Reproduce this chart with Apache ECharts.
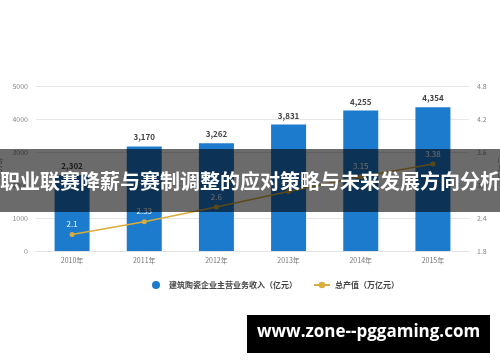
<!DOCTYPE html>
<html>
<head>
<meta charset="utf-8">
<script src="https://cdn.jsdelivr.net/npm/echarts@6/dist/echarts.min.js"></script>
<style>
html,body{margin:0;padding:0;background:#fff;}
#c{width:500px;height:362px;}
</style>
</head>
<body>
<div id="c"></div>
<script>
var categories = ['2010年','2011年','2012年','2013年','2014年','2015年'];
var revenue = [2302, 3170, 3262, 3831, 4255, 4354];
var output = [2.1, 2.33, 2.6, 2.88, 3.15, 3.38];
var leftTicks = {min: 0, max: 5000, interval: 1000};
var rightTicks = {min: 1.8, max: 4.8, interval: 0.6};
var seriesNames = ['建筑陶瓷企业主营业务收入（亿元）', '总产值（万亿元）'];
var bannerTitle = '职业联赛降薪与赛制调整的应对策略与未来发展方向分析';
var footerText = 'www.zone--pggaming.com';

function thousands(v){ return String(v).replace(/\B(?=(\d{3})+(?!\d))/g, ','); }

var chart = echarts.init(document.getElementById('c'));
chart.setOption({
  animation: false,
  textStyle: {fontFamily: '"Noto Sans CJK SC", "Noto Sans", sans-serif'},
  grid: {left: 36, right: 31, top: 86, bottom: 111, containLabel: false, outerBoundsMode: 'none'},
  legend: {
    left: 147, top: 276, itemGap: 16, itemWidth: 16, itemHeight: 8,
    textStyle: {fontSize: 8, color: '#444', fontWeight: 'bold'},
    data: [{name: seriesNames[0], icon: 'circle'}, {name: seriesNames[1]}]
  },
  xAxis: {
    type: 'category', data: categories,
    axisLine: {show: true, lineStyle: {color: '#e3e3e3'}},
    axisTick: {show: false},
    axisLabel: {fontSize: 7, color: '#777', margin: 6}
  },
  yAxis: [{
    type: 'value', min: leftTicks.min, max: leftTicks.max, interval: leftTicks.interval,
    name: '(亿元)', nameLocation: 'middle', nameGap: 26, nameRotate: 90,
    nameTextStyle: {fontSize: 8, color: '#888'},
    axisLine: {show: false}, axisTick: {show: false},
    axisLabel: {fontSize: 7, color: '#888', margin: 8, formatter: function(v){return String(v);}},
    splitLine: {lineStyle: {color: '#e6e6e6'}}
  },{
    type: 'value', min: rightTicks.min, max: rightTicks.max, interval: rightTicks.interval,
    name: '(万亿元)', nameLocation: 'middle', nameGap: 22, nameRotate: 90,
    nameTextStyle: {fontSize: 8, color: '#888'},
    axisLine: {show: false}, axisTick: {show: false},
    axisLabel: {fontSize: 7, color: '#888', margin: 8, formatter: function(v){return v.toFixed(1);}},
    splitLine: {show: false}
  }],
  series: [{
    name: seriesNames[0], type: 'bar', data: revenue, barWidth: 35,
    itemStyle: {color: '#1d7bcd'},
    label: {show: true, position: 'top', fontSize: 8, color: '#444', fontWeight: 'bold',
      formatter: function(p){return thousands(p.value);}}
  },{
    name: seriesNames[1], type: 'line', yAxisIndex: 1, data: output,
    symbol: 'circle', symbolSize: 5,
    itemStyle: {color: '#d9ac3c'}, lineStyle: {color: '#d9ac3c', width: 1.5},
    label: {show: true, position: 'top', fontSize: 8, color: '#fff', distance: 4}
  }],
  graphic: [{
    type: 'rect', left: 0, top: 149, z: 100,
    shape: {width: 500, height: 63},
    style: {fill: 'rgba(0,0,0,0.58)'}
  },{
    type: 'text', left: 'center', top: 171, z: 101,
    style: {text: bannerTitle, fill: '#fff', fontSize: 20, fontWeight: 'bold',
      fontFamily: '"Noto Sans CJK SC", sans-serif'}
  },{
    type: 'rect', left: 247, top: 315, z: 100,
    shape: {width: 243, height: 38},
    style: {fill: '#000'}
  },{
    type: 'text', left: 257, top: 324, z: 101,
    style: {text: footerText, fill: '#fff', fontSize: 17, fontWeight: 'bold',
      fontFamily: '"Open Sans", "DejaVu Sans", sans-serif'}
  }]
});
</script>
</body>
</html>
